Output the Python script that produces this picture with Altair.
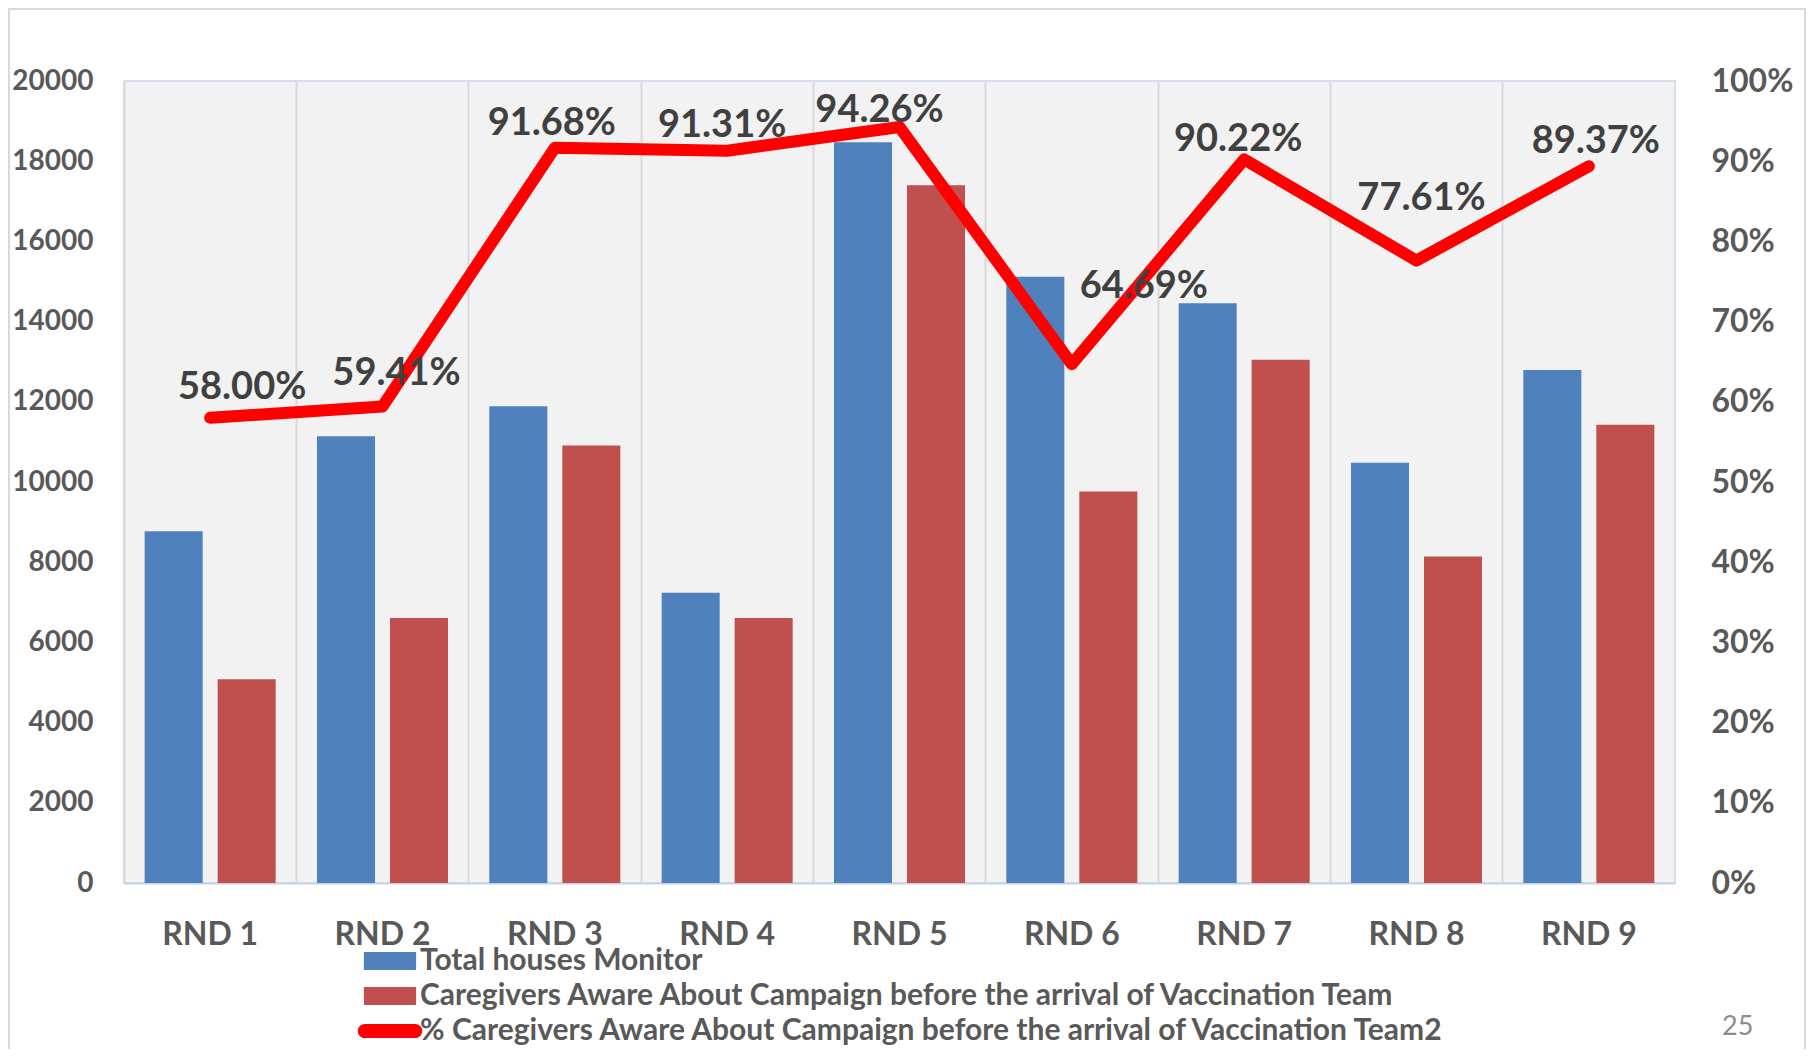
import altair as alt
import pandas as pd

# ---------------- data ----------------
rounds = ["RND 1", "RND 2", "RND 3", "RND 4", "RND 5", "RND 6", "RND 7", "RND 8", "RND 9"]
total_houses = [8770, 11140, 11890, 7240, 18470, 15120, 14460, 10480, 12790]
aware = [5080, 6610, 10910, 6610, 17400, 9760, 13050, 8140, 11430]
aware_pct = [58.00, 59.41, 91.68, 91.31, 94.26, 64.69, 90.22, 77.61, 89.37]
series_names = [
    "Total houses Monitor",
    "Caregivers Aware About Campaign before the arrival of Vaccination Team",
    "% Caregivers Aware About Campaign before the arrival of Vaccination Team2",
]
left_ticks = list(range(0, 20001, 2000))
right_ticks = [i / 10 for i in range(0, 11)]

bar_df = pd.DataFrame(
    [{"round": r, "series": series_names[0], "value": v} for r, v in zip(rounds, total_houses)]
    + [{"round": r, "series": series_names[1], "value": v} for r, v in zip(rounds, aware)]
)
line_df = pd.DataFrame(
    {
        "round": rounds,
        "pct": [p / 100 for p in aware_pct],
        "label": [f"{p:.2f}%" for p in aware_pct],
    }
)

# ---------------- style ----------------
FONT = "Lato"
AXIS_GRAY = "#595959"
BLUE = "#4F81BD"
RED = "#C0504D"
LINE_RED = "#FF0000"

RECT_PATH = "M-2.9,-1H2.9V1H-2.9Z"
ROUND_PATH = "M-2.8,-0.78H2.8A0.78,0.78,0,0,1,2.8,0.78H-2.8A0.78,0.78,0,0,1,-2.8,-0.78Z"

# label offsets (dx, dy) relative to each line point, as placed in the original
label_offsets = {
    "RND 1": (32, -30), "RND 2": (14, -33), "RND 3": (-3, -24),
    "RND 4": (-5, -25), "RND 5": (-20, -16), "RND 6": (72, -77),
    "RND 7": (-6, -19), "RND 8": (5, -62), "RND 9": (7, -24),
}

x_enc = alt.X(
    "round:N",
    sort=rounds,
    scale=alt.Scale(paddingInner=0, paddingOuter=0),
    axis=alt.Axis(
        title=None, labelAngle=0, ticks=False, grid=True, bandPosition=0,
        gridColor="#D9D9D9", gridWidth=2, domainColor="#C5D2E6", domainWidth=2,
        labelFont=FONT, labelFontSize=32, labelFontWeight="bold",
        labelColor=AXIS_GRAY, labelPadding=36,
    ),
)

bars = alt.Chart(bar_df).mark_bar().encode(
    x=x_enc,
    xOffset=alt.XOffset(
        "series:N", sort=series_names[:2],
        scale=alt.Scale(paddingInner=0.205, paddingOuter=0.283),
    ),
    y=alt.Y(
        "value:Q",
        scale=alt.Scale(domain=[0, 20000], nice=False),
        axis=alt.Axis(
            title=None, values=left_ticks, format="d", grid=False, domain=False, ticks=False,
            labelFont=FONT, labelFontSize=28, labelFontWeight="bold",
            labelColor=AXIS_GRAY, labelPadding=31,
        ),
    ),
    color=alt.Color(
        "series:N",
        scale=alt.Scale(domain=series_names, range=[BLUE, RED, LINE_RED]),
        legend=alt.Legend(
            title=None, orient="none", legendX=251, legendY=865, direction="vertical",
            padding=0,
            symbolType={"expr": f"datum.index === 2 ? '{ROUND_PATH}' : '{RECT_PATH}'"},
            symbolSize=324,
            symbolStrokeWidth=0, labelOffset=15, rowPadding=5,
            labelFont=FONT, labelFontSize=30, labelFontWeight="bold",
            labelColor=AXIS_GRAY, labelLimit=1200,
        ),
    ),
)

y_pct = alt.Y(
    "pct:Q",
    scale=alt.Scale(domain=[0, 1], nice=False),
    axis=alt.Axis(
        title=None, orient="right", values=right_ticks, format=".0%",
        grid=False, domain=False, ticks=False,
        labelFont=FONT, labelFontSize=32, labelFontWeight="bold",
        labelColor=AXIS_GRAY, labelPadding=36,
    ),
)

line = alt.Chart(line_df).mark_line(
    color=LINE_RED, strokeWidth=12, strokeCap="round", strokeJoin="round"
).encode(x=alt.X("round:N", sort=rounds), y=y_pct)

texts = []
for r in rounds:
    dx, dy = label_offsets[r]
    texts.append(
        alt.Chart(line_df)
        .transform_filter(alt.datum.round == r)
        .mark_text(
            font=FONT, fontSize=38, fontWeight="bold", color="#404040",
            dx=dx, dy=dy, baseline="middle", align="center",
        )
        .encode(x=alt.X("round:N", sort=rounds), y=y_pct, text="label:N")
    )

pct_layer = alt.layer(line, *texts)

frame = alt.Chart(pd.DataFrame({"k": [0]})).mark_rect(
    fill=None, stroke="#D9D9D9", strokeWidth=2
).encode(
    x=alt.value(-115), x2=alt.value(1681), y=alt.value(-72), y2=alt.value(990)
)

page_no = alt.Chart(pd.DataFrame({"t": ["25"]})).mark_text(
    font=FONT, fontSize=27, color="#8C8C8C", align="left", baseline="middle"
).encode(text="t:N", x=alt.value(1598), y=alt.value(946))

chart = (
    alt.layer(bars, pct_layer, frame, page_no)
    .resolve_scale(y="independent")
    .properties(
        width=1551, height=802,
        autosize=alt.AutoSizeParams(type="none"),
        padding={"left": 116, "top": 73, "right": 131, "bottom": 166},
        background="white",
    )
    .configure_view(fill="#F2F2F2", stroke="#D5DEEC", strokeWidth=2)
)

chart.save("out.html", embed_options={"renderer": "svg", "actions": False})
